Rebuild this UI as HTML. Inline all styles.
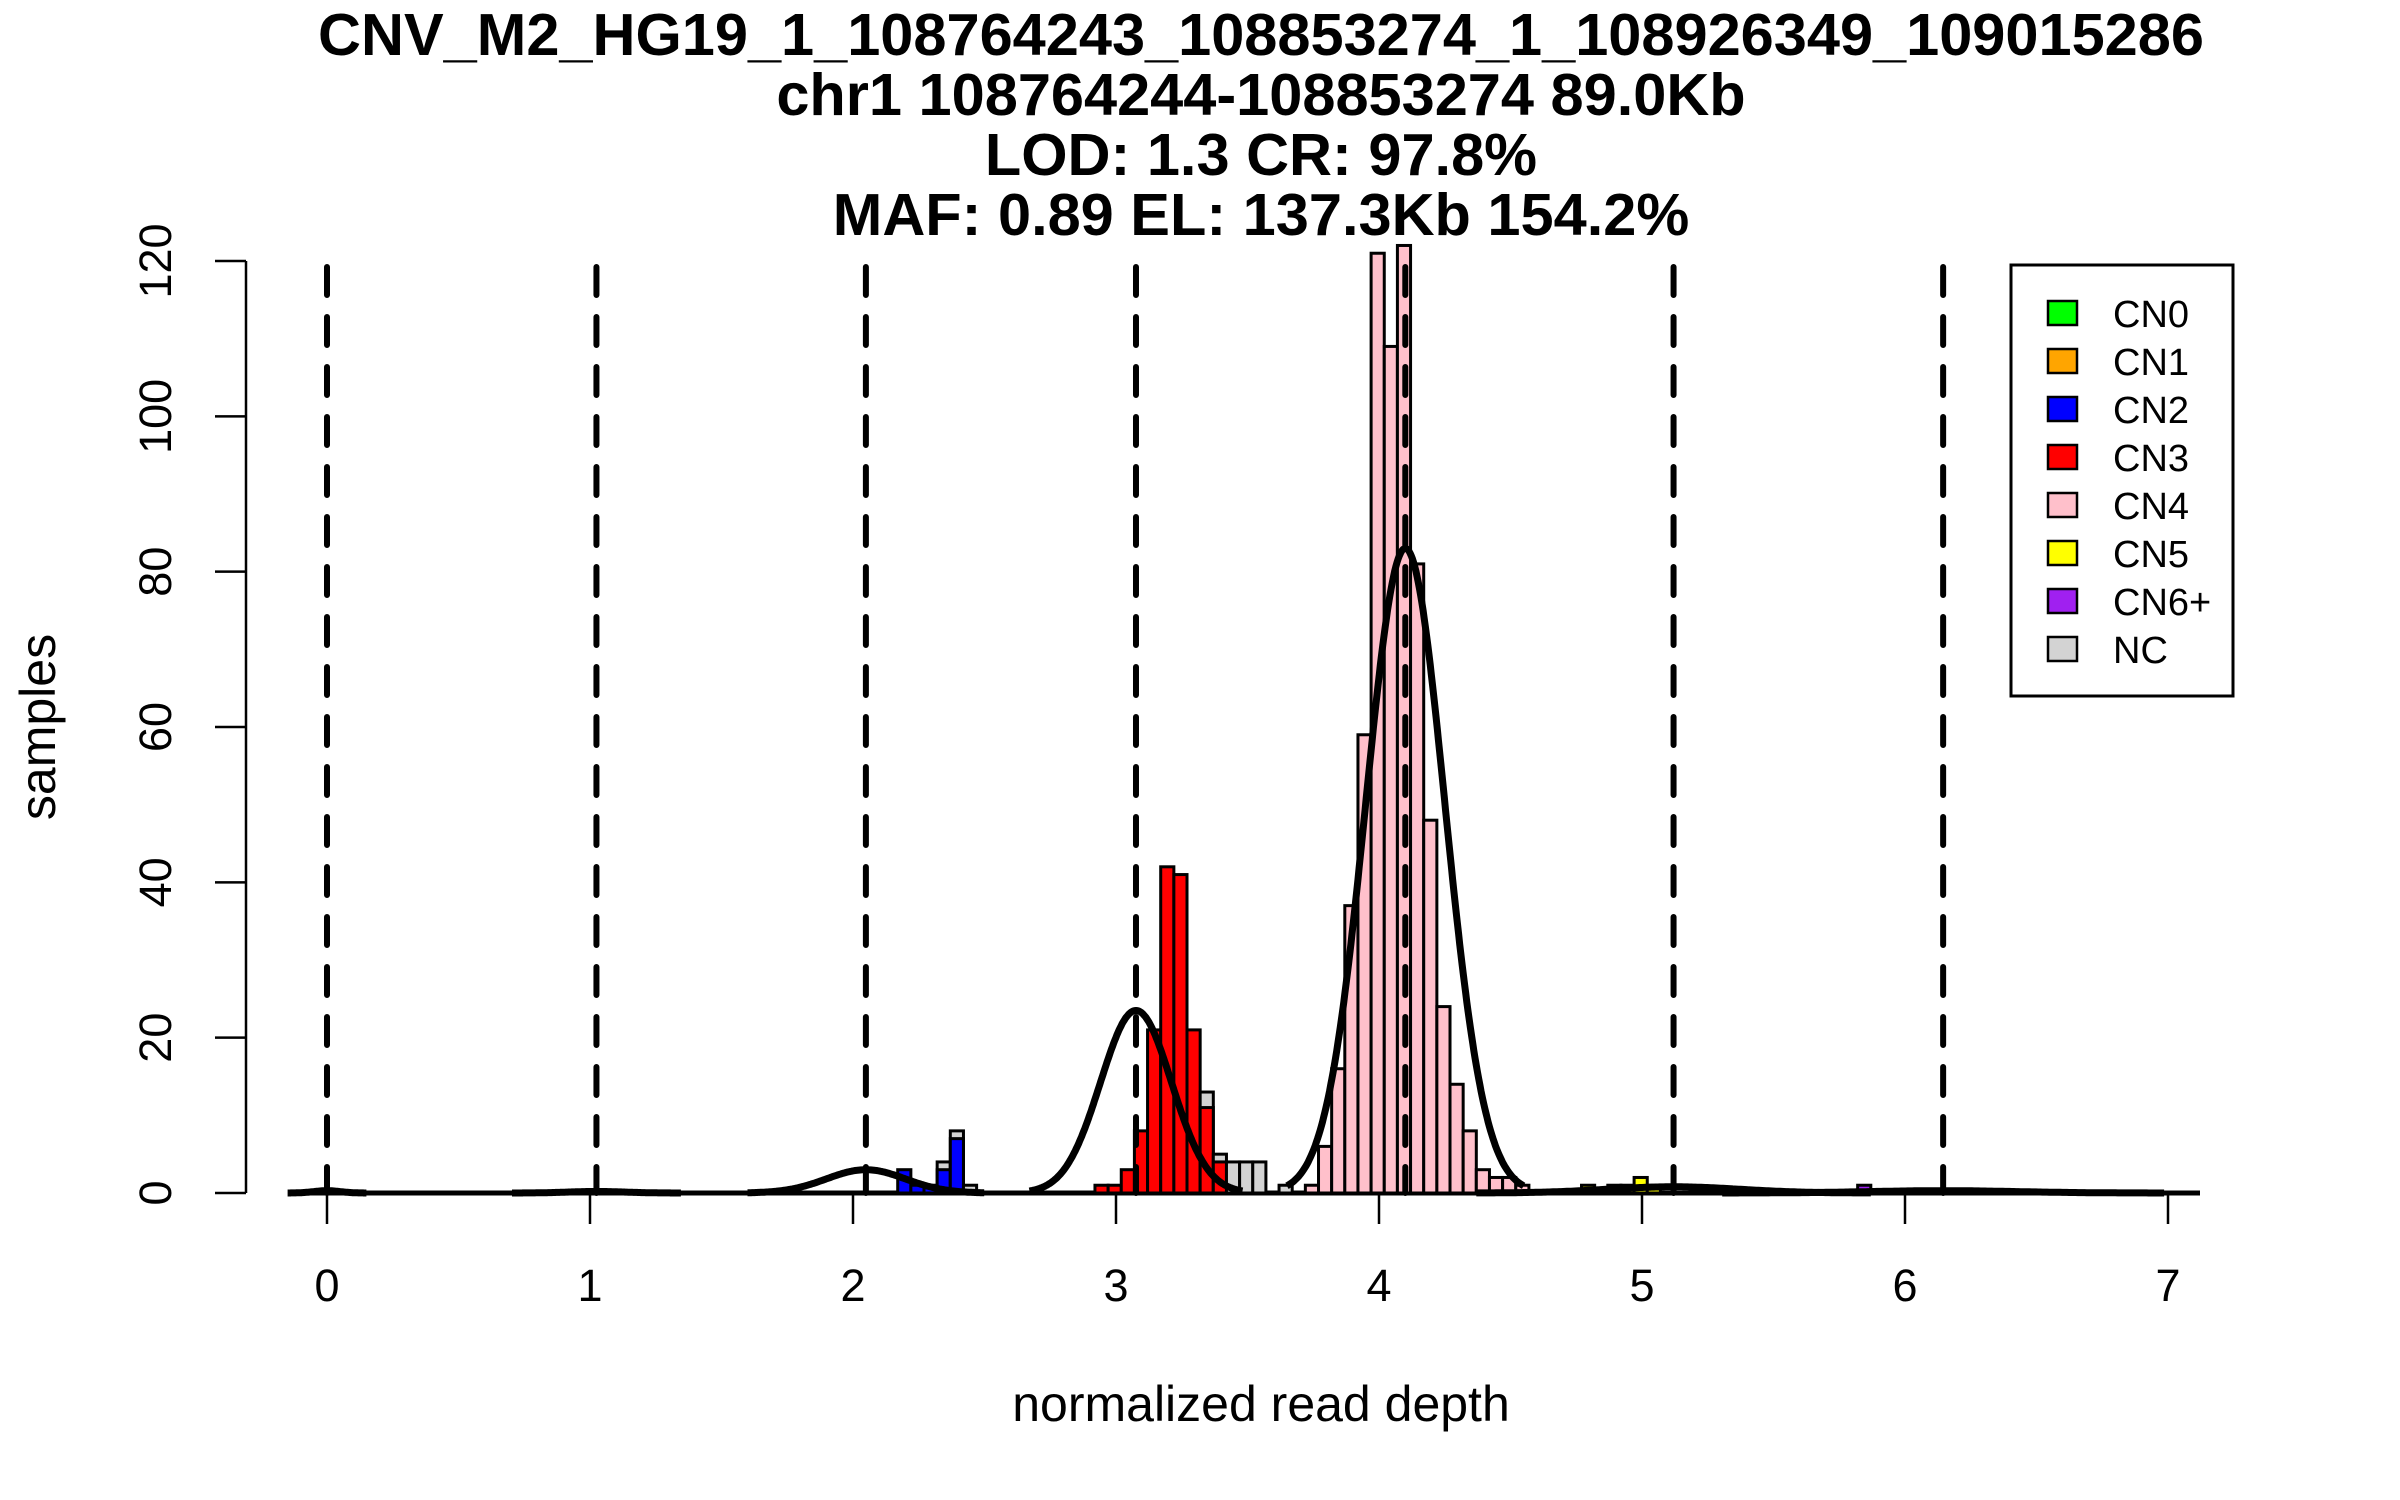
<!DOCTYPE html>
<html><head><meta charset="utf-8">
<style>
html,body{margin:0;padding:0;background:#fff;}
svg{display:block;font-family:"Liberation Sans",sans-serif;}
</style></head>
<body>
<svg id="chart" width="2400" height="1500" viewBox="0 0 2400 1500" xmlns="http://www.w3.org/2000/svg">
  <g font-weight="bold" font-size="59.5" text-anchor="middle" fill="#000">
    <text x="1261" y="55">CNV_M2_HG19_1_108764243_108853274_1_108926349_109015286</text>
    <text x="1261" y="115">chr1 108764244-108853274 89.0Kb</text>
    <text x="1261" y="175">LOD: 1.3 CR: 97.8%</text>
    <text x="1261" y="235">MAF: 0.89 EL: 137.3Kb 154.2%</text>
  </g>
  <text x="1261" y="1421" font-size="50" text-anchor="middle">normalized read depth</text>
  <text transform="translate(55,727) rotate(-90)" font-size="50" text-anchor="middle">samples</text>
  <g id="plot"></g>
  <g id="legend"></g>
</svg>
<script>
const binStarts = [2.17,2.22,2.27,2.32,2.37,2.42, 2.92,2.97,3.02,3.07,3.12,3.17,3.22,3.27,3.32,3.37,3.42,3.47,3.52,3.62, 3.72,3.77,3.82,3.87,3.92,3.97,4.02,4.07,4.12,4.17,4.22,4.27,4.32,4.37,4.42,4.47,4.52, 4.77,4.87,4.92,4.97,5.02, 5.82];
const totalCounts = [3,1,1,4,8,1, 1,1,3,8,21,42,41,21,13,5,4,4,4,1, 1,6,16,37,59,121,109,122,81,48,24,14,8,3,2,2,1, 1,1,1,2,1, 1];
const classCounts = [3,1,1,3,7,0, 1,1,3,8,21,42,41,21,11,4,0,0,0,0, 1,6,16,37,59,121,109,122,81,48,24,14,8,3,2,2,1, 1,1,1,2,1, 1];
const binClass = [2,2,2,2,2,2, 3,3,3,3,3,3,3,3,3,3,3,3,3,3, 4,4,4,4,4,4,4,4,4,4,4,4,4,4,4,4,4, 5,5,5,5,5, 6];
const binWidth = 0.05;
const curveMeans = [0, 1.0245, 2.049, 3.076, 4.1, 5.12, 6.145];
const curveHeights = [0.3, 0.2, 3, 23.5, 83, 0.8, 0.3];
const curveSds = [0.05, 0.107, 0.15, 0.135, 0.15, 0.25, 0.28];
const cnLines = [0, 1.0245, 2.049, 3.076, 4.1, 5.12, 6.145];
const xTicks = [0,1,2,3,4,5,6,7];
const yTicks = [0,20,40,60,80,100,120];
const legendLabels = ["CN0","CN1","CN2","CN3","CN4","CN5","CN6+","NC"];
const classColors = ["#00FF00","#FFA500","#0000FF","#FF0000","#FFC0CB","#FFFF00","#A020F0","#D3D3D3"];

const NS = "http://www.w3.org/2000/svg";
const X = v => 327 + 263*v;
const Y = v => 1193 - v*(932/120);
const plot = document.getElementById('plot');
function mk(tag, attrs, parent){ const e=document.createElementNS(NS,tag); for(const k in attrs) e.setAttribute(k,attrs[k]); (parent||plot).appendChild(e); return e; }

const ya = mk('g',{});


mk('line',{x1:246,y1:Y(0),x2:246,y2:Y(120),stroke:'#000','stroke-width':2.5},ya);
yTicks.forEach(t=>{
  mk('line',{x1:215,y1:Y(t),x2:246,y2:Y(t),stroke:'#000','stroke-width':2.5},ya);
  const tx = mk('text',{transform:`translate(171,${Y(t)}) rotate(-90)`,'font-size':45,'text-anchor':'middle'},ya);
  
  
  tx.textContent = t;
});
const xa = mk('g',{});


mk('line',{x1:X(0),y1:1193,x2:X(7),y2:1193,stroke:'#000','stroke-width':2.5},xa);
xTicks.forEach(t=>{
  mk('line',{x1:X(t),y1:1193,x2:X(t),y2:1224,stroke:'#000','stroke-width':2.5},xa);
  const tx = mk('text',{x:X(t),y:1301,'font-size':45,'text-anchor':'middle'},xa);
  
  
  tx.textContent = t;
});
mk('line',{x1:290,y1:1193,x2:2200,y2:1193,stroke:'#000','stroke-width':5});

binStarts.forEach((b,i)=>{
  const x0 = X(b), w = 263*binWidth;
  if (totalCounts[i] > classCounts[i]) {
    const r = mk('rect',{x:x0,y:Y(totalCounts[i]),width:w,height:Y(0)-Y(totalCounts[i]),fill:classColors[7],stroke:'#000','stroke-width':3});
    
    
  }
  if (classCounts[i] > 0) {
    const r = mk('rect',{x:x0,y:Y(classCounts[i]),width:w,height:Y(0)-Y(classCounts[i]),fill:classColors[binClass[i]],stroke:'#000','stroke-width':3});
    
    
  }
});

cnLines.forEach(v=>{
  const l = mk('line',{x1:X(v),y1:267,x2:X(v),y2:1193,stroke:'#000','stroke-width':6,'stroke-dasharray':'28 22','stroke-linecap':'round'});
  
  
});

curveMeans.forEach((m,i)=>{
  const s = curveSds[i], h = curveHeights[i];
  const lo = m-3*s, hi = m+3*s;
  let d = '';
  for (let k=0;k<=200;k++){
    const v = lo + (hi-lo)*k/200;
    const yv = h*Math.exp(-((v-m)*(v-m))/(2*s*s));
    d += (k?'L':'M') + X(v).toFixed(1) + ' ' + Y(yv).toFixed(1);
  }
  const p = mk('path',{d:d,fill:'none',stroke:'#000','stroke-width':7,'stroke-linejoin':'round'});
  
  
});

const lg = document.getElementById('legend');
mk('rect',{x:2011,y:265,width:222,height:431,fill:'#fff',stroke:'#000','stroke-width':3},lg);
legendLabels.forEach((lab,i)=>{
  const cy = 313 + 48*i;
  const g = mk('g',{},lg);
  
  
  mk('rect',{x:2048,y:cy-12,width:29,height:24,fill:classColors[i],stroke:'#000','stroke-width':2.5},g);
  const t = mk('text',{x:2113,y:cy+14,'font-size':38},g);
  t.textContent = lab;
});
</script>
</body></html>
